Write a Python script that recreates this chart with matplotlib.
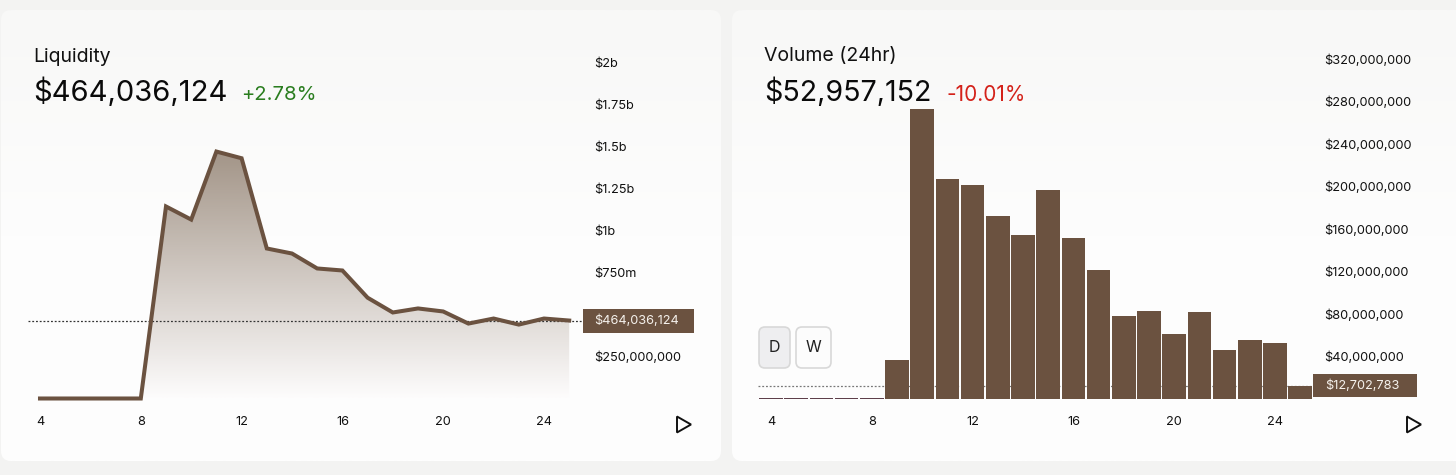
import numpy as np
import matplotlib
matplotlib.use("Agg")
import matplotlib.pyplot as plt
from matplotlib.patches import FancyBboxPatch, Polygon, Rectangle
from matplotlib.colors import LinearSegmentedColormap

plt.rcParams['font.family'] = ['Inter', 'DejaVu Sans']

# ---- data ----
hours = list(range(4, 26))
liquidity = [0, 0, 0, 0, 0, 1.143e9, 1.065e9, 1.47e9, 1.43e9, 0.893e9, 0.863e9,
             0.774e9, 0.762e9, 0.60e9, 0.512e9, 0.536e9, 0.518e9, 0.446e9,
             0.476e9, 0.44e9, 0.476e9, 0.464e9]
volume = [1.2e6, 1.2e6, 1.2e6, 1.2e6, 1.2e6, 36.7e6, 273e6, 207e6, 201e6, 172e6,
          154e6, 197e6, 152e6, 121e6, 78e6, 83e6, 61e6, 82e6, 46e6, 56e6, 53e6, 12.7e6]
x_ticks = [4, 8, 12, 16, 20, 24]
liq_ticks = [250e6, 750e6, 1e9, 1.25e9, 1.5e9, 1.75e9, 2e9]
liq_labels = ['$250,000,000', '$750m', '$1b', '$1.25b', '$1.5b', '$1.75b', '$2b']
vol_ticks = [40e6, 80e6, 120e6, 160e6, 200e6, 240e6, 280e6, 320e6]
vol_labels = ['$40,000,000', '$80,000,000', '$120,000,000', '$160,000,000',
              '$200,000,000', '$240,000,000', '$280,000,000', '$320,000,000']
liq_now = 464036124
vol_now = 12702783

BROWN = '#6b5240'
W, H = 1456, 475
fig = plt.figure(figsize=(W / 100, H / 100), dpi=100, facecolor='#f3f3f2')

# pixel-space overlay for cards and decoration
bg = fig.add_axes([0, 0, 1, 1], zorder=0)
bg.set_xlim(0, W); bg.set_ylim(H, 0); bg.axis('off')
card_cmap = LinearSegmentedColormap.from_list('card', ['#f8f8f7', '#fdfdfd', '#fefefe'])
grad = np.linspace(0, 1, 200).reshape(-1, 1)
for x0, x1 in [(1, 721), (732, 1456 + 12)]:
    card = FancyBboxPatch((x0 + 10, 20), x1 - x0 - 20, 431, fc='none', ec='none',
                          boxstyle='round,pad=10,rounding_size=10')
    bg.add_patch(card)
    im = bg.imshow(grad, extent=(x0, x1, 461, 10), cmap=card_cmap, aspect='auto', zorder=1)
    im.set_clip_path(card)
bg.set_xlim(0, W); bg.set_ylim(H, 0)


def make_axes(px_left, px_right, x4_px, y0_px, per_unit):
    """Axes spanning the given pixels, with data scales set from tick positions."""
    top_px, bottom_px = 40, 404
    ax = fig.add_axes([px_left / W, 1 - bottom_px / H, (px_right - px_left) / W,
                       (bottom_px - top_px) / H], zorder=2)
    ax.patch.set_alpha(0)
    ax.set_xlim(4 + (px_left - x4_px) / 25.2, 4 + (px_right - x4_px) / 25.2)
    ax.set_ylim((y0_px - bottom_px) / per_unit, (y0_px - top_px) / per_unit)
    for s in ax.spines.values():
        s.set_visible(False)
    ax.yaxis.tick_right()
    ax.set_xticks(x_ticks)
    ax.tick_params(axis='both', length=0, labelsize=9.2, labelcolor='#111111')
    ax.tick_params(axis='y', pad=8.0)
    ax.tick_params(axis='x', pad=8.5)
    return ax


# ---- Liquidity ----
ax1 = make_axes(28, 583, 40, 398.5, 168 / 1e9)
ax1.set_yticks(liq_ticks, liq_labels)
fill_cmap = LinearSegmentedColormap.from_list('fill', ['#a39588', '#fdfcfc'])
poly = ax1.fill_between(hours, liquidity, 0, color='none')
im = ax1.imshow(grad, extent=(4, 25, 0, max(liquidity)), cmap=fill_cmap, aspect='auto', zorder=1,
                origin='upper')
im.set_clip_path(poly.get_paths()[0], transform=ax1.transData)
ax1.set_xlim(4 + (28 - 40) / 25.2, 4 + (583 - 40) / 25.2)
ax1.set_ylim((398.5 - 404) * 1e9 / 168, (398.5 - 40) * 1e9 / 168)
ax1.plot(hours, liquidity, color=BROWN, lw=2.9, solid_joinstyle='miter', zorder=3)
ax1.axhline(liq_now, color='#333333', lw=0.9, ls=(0, (1.5, 1.5)), zorder=2)

# ---- Volume ----
ax2 = make_axes(758, 1313, 771, 399, 1.0625 / 1e6)
ax2.set_yticks(vol_ticks, vol_labels)
ax2.axhline(vol_now, color='#777777', lw=0.9, ls=(0, (1.5, 1.5)), zorder=1)
bar_colors = ['#5e3f4a' if v < 2e6 else BROWN for v in volume]
ax2.bar(hours, volume, width=0.93, color=bar_colors, zorder=2)

# ---- header text and decoration ----
t = dict(transform=bg.transData, zorder=5, va='center')
bg.text(33, 56.5, 'Liquidity', fontsize=14, color='#111111', **t)
bg.text(33, 92, '$464,036,124', fontsize=21, color='#0a0a0a', **t)
bg.text(241, 95, '+2.78%', fontsize=14.6, color='#2a7d1f', **t)
bg.text(764, 56.5, 'Volume (24hr)', fontsize=14, color='#111111', **t)
bg.text(764, 92, '$52,957,152', fontsize=20.6, color='#0a0a0a', **t)
bg.text(946, 95, '-10.01%', fontsize=15, color='#d4221a', **t)

# price boxes sit over the plot area
top = fig.add_axes([0, 0, 1, 1], zorder=4)
top.set_xlim(0, W); top.set_ylim(H, 0); top.axis('off'); top.patch.set_alpha(0)
top.add_patch(Rectangle((583, 308.5), 111, 24, fc=BROWN, ec='none'))
top.text(594, 321, '$464,036,124', color='#f5f1ec', fontsize=9.2, va='center')
top.add_patch(Rectangle((1313, 374), 104, 23, fc=BROWN, ec='none'))
top.text(1325, 386, '$12,702,783', color='#f5f1ec', fontsize=9.2, va='center')

for (a, b, lab, fc) in [(759, 790, 'D', '#eeeef0'), (796, 831, 'W', '#fcfcfc')]:
    top.add_patch(FancyBboxPatch((a + 5, 332), b - a - 10, 31,
                                 boxstyle='round,pad=5,rounding_size=6',
                                 fc=fc, ec='#d8d8d8', lw=1.2))
    top.text((a + b) / 2, 348, lab, ha='center', va='center', fontsize=11.5, color='#222222')

for x in (677, 1407):
    top.add_patch(Polygon([(x, 416.5), (x + 14, 424.5), (x, 432.5)], closed=True,
                          fc='none', ec='#111111', lw=1.4))

fig.savefig('out.png', dpi=100, facecolor=fig.get_facecolor())
